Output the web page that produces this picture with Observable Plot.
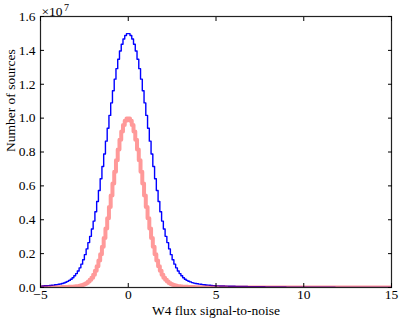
<!DOCTYPE html>
<html><head><meta charset="utf-8">
<script src="https://cdn.jsdelivr.net/npm/d3@7"></script>
<script src="https://cdn.jsdelivr.net/npm/@observablehq/plot@0.6"></script>
<style>body{margin:0;background:#fff}</style>
</head><body><div id="chart"></div>
<script>
// Histogram bins: start and width (units of W4 S/N)
const binStart = -5, binWidth = 0.1;
// Counts per bin, in units of 1e7 sources
const blueCounts = [
0.008,0.009,0.010,0.010,0.011,0.012,0.013,0.014,0.016,0.017,
0.019,0.021,0.024,0.027,0.031,0.036,0.042,0.049,0.058,0.069,
0.082,0.097,0.116,0.138,0.164,0.194,0.228,0.265,0.302,0.345,
0.392,0.447,0.508,0.573,0.642,0.714,0.788,0.864,0.940,1.016,
1.090,1.162,1.230,1.292,1.348,1.396,1.436,1.467,1.488,1.499,
1.499,1.488,1.467,1.436,1.396,1.348,1.292,1.230,1.162,1.090,
1.016,0.940,0.864,0.788,0.714,0.642,0.573,0.508,0.447,0.392,
0.345,0.302,0.265,0.228,0.194,0.164,0.138,0.116,0.097,0.082,
0.069,0.058,0.049,0.042,0.037,0.033,0.029,0.026,0.024,0.022,
0.020,0.019,0.017,0.016,0.015,0.014,0.013,0.012,0.011,0.010,
0.0098,0.0095,0.0092,0.0089,0.0086,0.0083,0.0080,0.0077,0.0074,0.0072,
0.0070,0.0068,0.0066,0.0064,0.0062,0.0060,0.0058,0.0056,0.0054,0.0052,
0.0050,0.0049,0.0047,0.0046,0.0044,0.0043,0.0041,0.0040,0.0038,0.0037,
0.0035,0.0034,0.0033,0.0032,0.0031,0.0030,0.0029,0.0028,0.0027,0.0026,
0.0025,0.0024,0.0023,0.0023,0.0022,0.0021,0.0020,0.0020,0.0019,0.0018,
0.0018,0.0017,0.0017,0.0016,0.0016,0.0015,0.0015,0.0014,0.0014,0.0013,
0.0013,0.0013,0.0012,0.0012,0.0012,0.0011,0.0011,0.0011,0.0010,0.0010,
0.0010,0.0010,0.0009,0.0009,0.0009,0.0009,0.0008,0.0008,0.0008,0.0008,
0.0008,0.0007,0.0007,0.0007,0.0007,0.0007,0.0006,0.0006,0.0006,0.0006,
0.0006,0.0006,0.0006,0.0005,0.0005,0.0005,0.0005,0.0005,0.0005,0.0005
];
const pinkCounts = [
0.0010,0.0011,0.0011,0.0012,0.0013,0.0014,0.0015,0.0016,0.0017,0.0018,
0.0020,0.0022,0.0024,0.0027,0.0030,0.0034,0.0039,0.0044,0.0050,0.0058,
0.0068,0.008,0.010,0.013,0.016,0.021,0.027,0.035,0.046,0.058,
0.076,0.099,0.126,0.159,0.197,0.241,0.292,0.348,0.409,0.475,
0.543,0.614,0.684,0.751,0.815,0.872,0.921,0.959,0.985,0.998,
0.998,0.985,0.959,0.921,0.872,0.815,0.751,0.684,0.614,0.543,
0.475,0.409,0.348,0.292,0.241,0.197,0.159,0.126,0.099,0.076,
0.058,0.046,0.035,0.027,0.021,0.016,0.013,0.010,0.008,0.0068,
0.0058,0.0050,0.0044,0.0039,0.0034,0.0030,0.0027,0.0024,0.0022,0.0020,
0.0018,0.0017,0.0016,0.0015,0.0014,0.0013,0.0012,0.0011,0.0011,0.0010,
0.0010,0.0009,0.0009,0.0008,0.0008,0.0008,0.0007,0.0007,0.0007,0.0006,
0.0006,0.0006,0.0006,0.0006,0.0006,0.0005,0.0005,0.0005,0.0005,0.0005,
0.0005,0.0005,0.0004,0.0004,0.0004,0.0004,0.0004,0.0004,0.0004,0.0004,
0.0004,0.0004,0.0004,0.0003,0.0003,0.0003,0.0003,0.0003,0.0003,0.0003,
0.0003,0.0003,0.0003,0.0003,0.0003,0.0003,0.0003,0.0003,0.0003,0.0003,
0.0002,0.0002,0.0002,0.0002,0.0002,0.0002,0.0002,0.0002,0.0002,0.0002,
0.0002,0.0002,0.0002,0.0002,0.0002,0.0002,0.0002,0.0002,0.0002,0.0002,
0.0002,0.0002,0.0002,0.0002,0.0002,0.0002,0.0002,0.0002,0.0002,0.0002,
0.0001,0.0001,0.0001,0.0001,0.0001,0.0001,0.0001,0.0001,0.0001,0.0001,
0.0001,0.0001,0.0001,0.0001,0.0001,0.0001,0.0001,0.0001,0.0001,0.0001
];
const xTicks = [-5, 0, 5, 10, 15];
const yTicks = [0, 0.2, 0.4, 0.6, 0.8, 1.0, 1.2, 1.4, 1.6];
const xLabel = "W4 flux signal-to-noise";
const yLabel = "Number of sources";
const scaleBase = "×10";
const scaleExp = "7";

function stepPoints(counts) {
  const pts = [{x: binStart, y: 0}];
  counts.forEach((v, i) => pts.push({x: binStart + i * binWidth, y: v}));
  const end = binStart + counts.length * binWidth;
  pts.push({x: end, y: counts[counts.length - 1]});
  pts.push({x: end, y: 0});
  return pts;
}

const font = "'Liberation Serif', 'DejaVu Serif', serif";
const chart = Plot.plot({
  width: 399, height: 319,
  marginLeft: 40, marginRight: 8, marginTop: 16, marginBottom: 32,
  style: {fontFamily: font, fontSize: "13px", color: "black", background: "white"},
  x: {domain: [-5, 15]},
  y: {domain: [0, 1.6]},
  marks: [
    Plot.line(stepPoints(blueCounts), {x: "x", y: "y", curve: "step-after", stroke: "#0000ff", strokeWidth: 1.4, clip: true}),
    Plot.line(stepPoints(pinkCounts), {x: "x", y: "y", curve: "step-after", stroke: "red", strokeOpacity: 0.4, strokeWidth: 4, clip: true}),
    Plot.frame({stroke: "#222", strokeWidth: 1.2}),
    Plot.axisX(xTicks, {anchor: "bottom", tickSize: -4, text: null, label: null}),
    Plot.axisX(xTicks, {anchor: "top", tickSize: -4, text: null, label: null}),
    Plot.axisY(yTicks, {anchor: "left", tickSize: -4, text: null, label: null}),
    Plot.axisY(yTicks, {anchor: "right", tickSize: -4, text: null, label: null}),
    Plot.axisX(xTicks, {anchor: "bottom", tickSize: 0, tickPadding: 2, fontSize: 13.5, tickFormat: d3.format("d"), label: null}),
    Plot.axisY(yTicks, {anchor: "left", tickSize: 0, tickPadding: 5, fontSize: 13.5, tickFormat: d3.format(".1f"), label: null}),
    Plot.text([xLabel], {frameAnchor: "bottom", dy: 27, fontSize: 13.5}),
    Plot.text([yLabel], {frameAnchor: "left", dx: -30, rotate: -90, fontSize: 13.5}),
    Plot.text([scaleBase], {frameAnchor: "top-left", textAnchor: "start", lineAnchor: "bottom", dx: 1, dy: -1, fontSize: 13.5}),
    Plot.text([scaleExp], {frameAnchor: "top-left", textAnchor: "start", lineAnchor: "bottom", dx: 23.5, dy: -6, fontSize: 10})
  ]
});
document.getElementById("chart").appendChild(chart);
</script>
</body></html>
